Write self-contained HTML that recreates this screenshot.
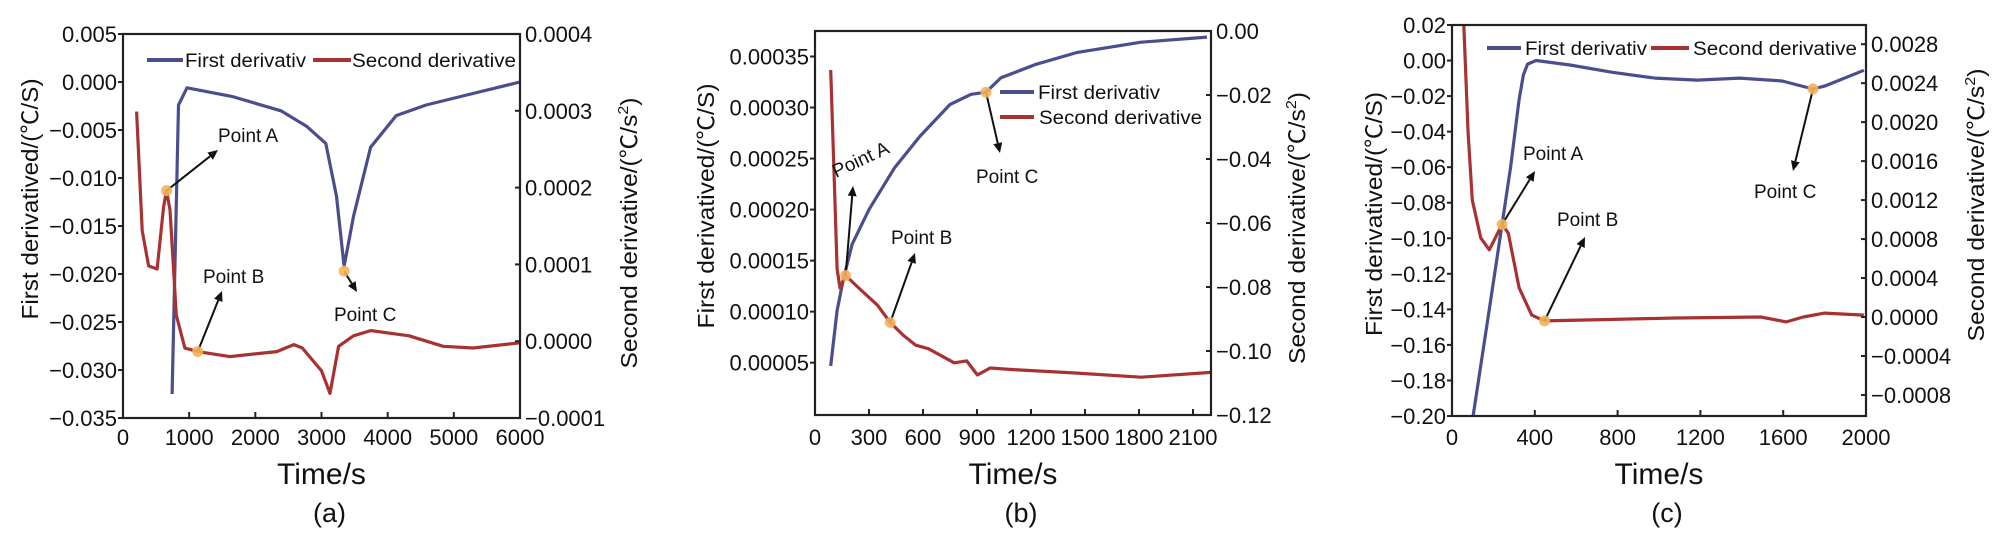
<!DOCTYPE html>
<html><head><meta charset="utf-8">
<style>
html,body{margin:0;padding:0;background:#fff;}
svg{display:block;font-family:"Liberation Sans","Noto Sans CJK SC",sans-serif;}
</style></head>
<body>
<svg id="fig" width="2006" height="550" viewBox="0 0 2006 550">
<defs>
<clipPath id="clipA"><rect x="123" y="34" width="397" height="384"/></clipPath>
<clipPath id="clipB"><rect x="815" y="31" width="396" height="384"/></clipPath>
<clipPath id="clipC"><rect x="1452" y="25" width="414" height="391"/></clipPath>
</defs>
</svg>
<script>
// ---------- Panel (a) data ----------
const aFirstT = [742,839,968,1645,2387,2774,3065,3226,3342,3484,3742,4129,4581,5226,6000];
const aFirstV = [-0.0325,-0.0024,-0.0006,-0.0015,-0.003,-0.0046,-0.0064,-0.0119,-0.0192,-0.014,-0.0068,-0.0035,-0.0024,-0.0013,0];
const aSecondT = [206,290,387,516,613,658,710,806,935,1129,1613,2323,2581,2710,3000,3129,3258,3484,3742,4323,4839,5290,6000];
const aSecondV = [0.000299,0.000144,0.000098,0.000094,0.000175,0.000196,0.000171,0.000034,-0.000009,-0.0000135,-0.00002,-0.0000135,-0.0000044,-0.0000089,-0.0000385,-0.000068,-0.0000067,0.000007,0.0000138,0.000007,-0.0000067,-0.0000089,-0.0000021];
const aMarkT = [658,1129,3342];
const aMarkV = [0.000196,-0.0000135,-0.0197];
const aMarkAxis = ['right','right','left'];
const aXTicks = [0,1000,2000,3000,4000,5000,6000];
const aLeftTicks = [0.005,0,-0.005,-0.01,-0.015,-0.02,-0.025,-0.03,-0.035];
const aLeftLabels = ['0.005','0.000','−0.005','−0.010','−0.015','−0.020','−0.025','−0.030','−0.035'];
const aRightTicks = [0.0004,0.0003,0.0002,0.0001,0,-0.0001];
const aRightLabels = ['0.0004','0.0003','0.0002','0.0001','0.0000','−0.0001'];

// ---------- Panel (b) data ----------
const bFirstT = [87,123,158,206,300,442,584,750,867,950,1032,1221,1457,1811,2178];
const bFirstV = [0.0000468,0.000101,0.000132,0.000166,0.0002,0.000241,0.000272,0.000303,0.000313,0.000315,0.000329,0.000342,0.000354,0.000364,0.000369];
const bSecondT = [87,106,123,139,170,253,347,418,489,560,631,702,773,843,902,973,1103,1457,1811,2200];
const bSecondV = [-0.0122,-0.0449,-0.0743,-0.0803,-0.0764,-0.0808,-0.0857,-0.0911,-0.095,-0.0982,-0.0993,-0.1015,-0.1037,-0.1031,-0.1075,-0.1053,-0.1058,-0.1069,-0.1082,-0.1067];
const bMarkT = [170,418,950];
const bMarkV = [-0.0764,-0.0911,0.000315];
const bMarkAxis = ['right','right','left'];
const bXTicks = [0,300,600,900,1200,1500,1800,2100];
const bLeftTicks = [0.00005,0.0001,0.00015,0.0002,0.00025,0.0003,0.00035];
const bLeftLabels = ['0.00005','0.00010','0.00015','0.00020','0.00025','0.00030','0.00035'];
const bRightTicks = [0,-0.02,-0.04,-0.06,-0.08,-0.1,-0.12];
const bRightLabels = ['0.00','−0.02','−0.04','−0.06','−0.08','−0.10','−0.12'];

// ---------- Panel (c) data ----------
const cFirstT = [102,180,242,283,324,345,365,406,570,775,980,1185,1390,1595,1744,1800,1990];
const cFirstV = [-0.2,-0.14,-0.092,-0.06,-0.022,-0.008,-0.002,0.0,-0.0025,-0.0066,-0.0099,-0.011,-0.0099,-0.0115,-0.016,-0.0144,-0.0055];
const cSecondT = [50,57,78,98,139,180,242,272,324,385,447,672,1082,1492,1615,1697,1800,1990];
const cSecondV = [0.0034,0.0030,0.00189,0.0012,0.00081,0.00069,0.00095,0.00086,0.0003,0.00002,-0.00004,-0.00003,-0.00001,0,-0.00005,0,0.00004,0.00002];
const cMarkT = [242,447,1744];
const cMarkV = [0.00095,-0.00004,-0.016];
const cMarkAxis = ['right','right','left'];
const cXTicks = [0,400,800,1200,1600,2000];
const cLeftTicks = [0.02,0,-0.02,-0.04,-0.06,-0.08,-0.1,-0.12,-0.14,-0.16,-0.18,-0.2];
const cLeftLabels = ['0.02','0.00','−0.02','−0.04','−0.06','−0.08','−0.10','−0.12','−0.14','−0.16','−0.18','−0.20'];
const cRightTicks = [0.0028,0.0024,0.002,0.0016,0.0012,0.0008,0.0004,0,-0.0004,-0.0008];
const cRightLabels = ['0.0028','0.0024','0.0020','0.0016','0.0012','0.0008','0.0004','0.0000','−0.0004','−0.0008'];

const BLUE = '#4b4e8e', RED = '#a83232', ORANGE = '#f2b35a';
const svg = document.getElementById('fig');
const NS = 'http://www.w3.org/2000/svg';
function mk(tag, attrs, parent) {
  const e = document.createElementNS(NS, tag);
  for (const k in attrs) e.setAttribute(k, attrs[k]);
  (parent || svg).appendChild(e);
  return e;
}

const panels = [
  {id:'a', x0:123, x1:520, y0:34, y1:418, xd:[0,6000], ld:[-0.035,0.005], rd:[-0.0001,0.0004], clip:'clipA',
   firstT:aFirstT, firstV:aFirstV, secondT:aSecondT, secondV:aSecondV,
   markT:aMarkT, markV:aMarkV, markAxis:aMarkAxis,
   xt:aXTicks, lt:aLeftTicks, ll:aLeftLabels, rt:aRightTicks, rl:aRightLabels,
   ltitle:{x:38, y:199, len:241}, rtitle:{x:637, y:233, len:271},
   legend:[{x1:147,x2:183,y:60,tx:185,tw:121,label:'First derivativ'},{x1:313,x2:351,y:60,tx:352,tw:164,label:'Second derivative',red:true}],
   notes:[{label:'Point A', tx:218, ty:142, ax:218, ay:150, rot:0},
          {label:'Point B', tx:203, ty:283, ax:222, ay:291, rot:0},
          {label:'Point C', tx:334, ty:321, ax:357, ay:292, rot:0}]},
  {id:'b', x0:815, x1:1211, y0:31, y1:415, xd:[0,2200], ld:[-0.0000013,0.000375], rd:[-0.12,0], clip:'clipB',
   firstT:bFirstT, firstV:bFirstV, secondT:bSecondT, secondV:bSecondV,
   markT:bMarkT, markV:bMarkV, markAxis:bMarkAxis,
   xt:bXTicks, lt:bLeftTicks, ll:bLeftLabels, rt:bRightTicks, rl:bRightLabels,
   ltitle:{x:714, y:206, len:245}, rtitle:{x:1305, y:228, len:272},
   legend:[{x1:1000,x2:1034,y:92,tx:1038,tw:122,label:'First derivativ'},{x1:1000,x2:1034,y:117,tx:1039,tw:163,label:'Second derivative',red:true}],
   notes:[{label:'Point A', tx:836, ty:178, ax:853, ay:186, rot:-25},
          {label:'Point B', tx:891, ty:244, ax:915, ay:253, rot:0},
          {label:'Point C', tx:976, ty:183, ax:1000, ay:153, rot:0}]},
  {id:'c', x0:1452, x1:1866, y0:25, y1:416, xd:[0,2000], ld:[-0.2,0.02], rd:[-0.001016,0.002997], clip:'clipC',
   firstT:cFirstT, firstV:cFirstV, secondT:cSecondT, secondV:cSecondV,
   markT:cMarkT, markV:cMarkV, markAxis:cMarkAxis,
   xt:cXTicks, lt:cLeftTicks, ll:cLeftLabels, rt:cRightTicks, rl:cRightLabels,
   ltitle:{x:1382, y:214, len:244}, rtitle:{x:1984, y:205, len:273},
   legend:[{x1:1487,x2:1521,y:48,tx:1525,tw:122,label:'First derivativ'},{x1:1651,x2:1689,y:48,tx:1693,tw:164,label:'Second derivative',red:true}],
   notes:[{label:'Point A', tx:1523, ty:160, ax:1535, ay:171, rot:0},
          {label:'Point B', tx:1557, ty:226, ax:1585, ay:237, rot:0},
          {label:'Point C', tx:1754, ty:198, ax:1793, ay:171, rot:0}]}
];

function arrow(g, x1, y1, x2, y2) {
  const ang = Math.atan2(y2 - y1, x2 - x1);
  const hl = 10, hw = 4.5;
  const bx = x2 - hl * Math.cos(ang), by = y2 - hl * Math.sin(ang);
  const l = mk('line', {x1:x1, y1:y1, x2:bx, y2:by, stroke:'#111', 'stroke-width':2}, g);
  
  
  const px = -Math.sin(ang) * hw, py = Math.cos(ang) * hw;
  const h = mk('polygon', {points: x2+','+y2+' '+(bx+px)+','+(by+py)+' '+(bx-px)+','+(by-py), fill:'#111'}, g);
  
  
}

panels.forEach(p => {
  const g = mk('g', {});
  
  
  const sx = v => p.x0 + (v - p.xd[0]) / (p.xd[1] - p.xd[0]) * (p.x1 - p.x0);
  const syl = v => p.y1 - (v - p.ld[0]) / (p.ld[1] - p.ld[0]) * (p.y1 - p.y0);
  const syr = v => p.y1 - (v - p.rd[0]) / (p.rd[1] - p.rd[0]) * (p.y1 - p.y0);

  // series
  const dl = p.firstT.map((t, i) => (i ? 'L' : 'M') + sx(t).toFixed(1) + ',' + syl(p.firstV[i]).toFixed(1)).join('');
  const fl = mk('path', {d:dl, fill:'none', stroke:BLUE, 'stroke-width':3.2, 'stroke-linejoin':'round', 'clip-path':'url(#'+p.clip+')'}, g);
  
  
  const dr = p.secondT.map((t, i) => (i ? 'L' : 'M') + sx(t).toFixed(1) + ',' + syr(p.secondV[i]).toFixed(1)).join('');
  const sl = mk('path', {d:dr, fill:'none', stroke:RED, 'stroke-width':3.2, 'stroke-linejoin':'round', 'clip-path':'url(#'+p.clip+')'}, g);
  
  

  // frame
  const fr = mk('rect', {x:p.x0, y:p.y0, width:p.x1-p.x0, height:p.y1-p.y0, fill:'none', stroke:'#222', 'stroke-width':2.2}, g);
  
  

  // x ticks
  p.xt.forEach(v => {
    const x = sx(v);
    const t = mk('line', {x1:x, y1:p.y1, x2:x, y2:p.y1-6, stroke:'#222', 'stroke-width':2}, g);
    
    
    const tx = mk('text', {x:x, y:445, 'font-size':22, 'text-anchor':'middle', fill:'#111'}, g);
    tx.textContent = String(v);
    
    
  });
  // left ticks
  p.lt.forEach((v, i) => {
    const y = syl(v);
    const t = mk('line', {x1:p.x0, y1:y, x2:p.x0-5, y2:y, stroke:'#222', 'stroke-width':2}, g);
    
    
    const tx = mk('text', {x:p.x0-6, y:y+8, 'font-size':22, 'text-anchor':'end', fill:'#111'}, g);
    tx.textContent = p.ll[i];
    
    
  });
  // right ticks
  p.rt.forEach((v, i) => {
    const y = syr(v);
    const t = mk('line', {x1:p.x1, y1:y, x2:p.x1-5, y2:y, stroke:'#222', 'stroke-width':2}, g);
    
    
    const tx = mk('text', {x:p.x1+5, y:y+8, 'font-size':22, 'text-anchor':'start', fill:'#111'}, g);
    tx.textContent = p.rl[i];
    
    
  });

  // axis titles
  const xtl = mk('text', {x:(p.x0+p.x1)/2, y:484, 'font-size':30, 'text-anchor':'middle', fill:'#111'}, g);
  xtl.textContent = 'Time/s';
  
  
  const lt = mk('text', {x:0, y:0, 'font-size':23, 'text-anchor':'middle', fill:'#111', textLength:p.ltitle.len, lengthAdjust:'spacingAndGlyphs', transform:'translate('+p.ltitle.x+','+p.ltitle.y+') rotate(-90)'}, g);
  lt.textContent = 'First derivatived/(℃/S)';
  
  
  const rt = mk('text', {x:0, y:0, 'font-size':23, 'text-anchor':'middle', fill:'#111', textLength:p.rtitle.len, lengthAdjust:'spacingAndGlyphs', transform:'translate('+p.rtitle.x+','+p.rtitle.y+') rotate(-90)'}, g);
  rt.innerHTML = 'Second derivative/(℃/s<tspan font-size="15" dy="-9">2</tspan><tspan dy="9">)</tspan>';
  
  

  // panel label
  const pl = mk('text', {x:(p.x0+p.x1)/2 + 8, y:522, 'font-size':27, 'text-anchor':'middle', fill:'#111'}, g);
  pl.textContent = '(' + p.id + ')';
  
  

  // legend
  p.legend.forEach(L => {
    const ll = mk('line', {x1:L.x1, y1:L.y, x2:L.x2, y2:L.y, stroke:L.red?RED:BLUE, 'stroke-width':4}, g);
    
    
    const lt2 = mk('text', {x:L.tx, y:L.y+7, 'font-size':19, fill:'#111', textLength:L.tw, lengthAdjust:'spacingAndGlyphs'}, g);
    lt2.textContent = L.label;
    
    
  });

  // annotations + markers
  p.markT.forEach((t, i) => {
    const mx = sx(t);
    const my = p.markAxis[i] === 'left' ? syl(p.markV[i]) : syr(p.markV[i]);
    const n = p.notes[i];
    arrow(g, mx, my, n.ax, n.ay);
    const c = mk('circle', {cx:mx, cy:my, r:5.5, fill:ORANGE, opacity:0.9}, g);
    
    
    const nt = mk('text', {x:n.tx, y:n.ty, 'font-size':19, fill:'#111'}, g);
    if (n.rot) nt.setAttribute('transform', 'rotate(' + n.rot + ' ' + n.tx + ' ' + n.ty + ')');
    nt.textContent = n.label;
    
    
  });
});
</script>
</body></html>
